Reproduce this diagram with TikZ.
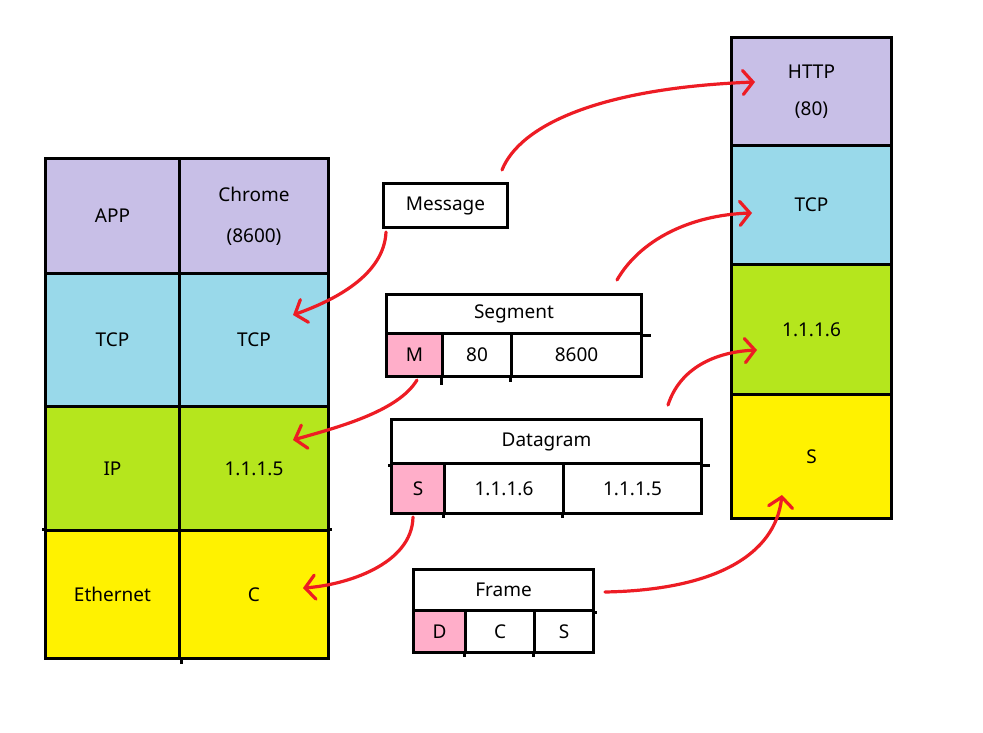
\documentclass[tikz,border=0pt]{standalone}
\usepackage{fontspec}
\setmainfont{Noto Sans}
\usetikzlibrary{arrows.meta}
\definecolor{cpurple}{HTML}{C8BFE7}
\definecolor{cblue}{HTML}{99D9EA}
\definecolor{cgreen}{HTML}{B5E61D}
\definecolor{cyellow}{HTML}{FFF200}
\definecolor{cpink}{HTML}{FFAEC9}
\definecolor{cred}{HTML}{ED1C24}
\begin{document}
\begin{tikzpicture}[x=1pt,y=-1pt,
  cell/.style={draw=black,line width=3pt,inner sep=0pt,anchor=north west,
    font=\fontsize{19}{22}\selectfont,align=center},
  ext/.style={draw=black,line width=3pt},
  redarrow/.style={draw=cred,line width=3.2pt,line cap=round,
    -{Straight Barb[length=10pt,width=24pt,line cap=round]}}]
\useasboundingbox (0,0) rectangle (983,733);
% left stack
\node[cell,fill=cpurple,minimum width=134,minimum height=115] (app) at (44,157) {APP};
\node[cell,fill=cpurple,minimum width=149,minimum height=115] (chrome) at (178,157) {Chrome\\[19pt](8600)};
\node[cell,fill=cblue,minimum width=134,minimum height=133] (tcpL) at (44,272) {TCP};
\node[cell,fill=cblue,minimum width=149,minimum height=133] (tcpR) at (178,272) {TCP};
\node[cell,fill=cgreen,minimum width=134,minimum height=124] (ipL) at (44,405) {IP};
\node[cell,fill=cgreen,minimum width=149,minimum height=124] (ipR) at (178,405) {1.1.1.5};
\node[cell,fill=cyellow,minimum width=134,minimum height=128] (ethL) at (44,529) {Ethernet};
\node[cell,fill=cyellow,minimum width=149,minimum height=128] (ethR) at (178,529) {C};
\draw[ext] (ethL.south east) -- ++(0,4);
\draw[ext] (ethL.north west) ++(-2,0) -- ++(2,0);
\draw[ext] (ethR.north east) -- ++(2,0);
% right stack
\node[cell,fill=cpurple,minimum width=160,minimum height=108] (http) at (730,36) {HTTP\\[15pt](80)};
\node[cell,fill=cblue,minimum width=160,minimum height=119] (tcp2) at (730,144) {TCP};
\node[cell,fill=cgreen,minimum width=160,minimum height=130] (ip2) at (730,263) {1.1.1.6};
\node[cell,fill=cyellow,minimum width=160,minimum height=124] (s2) at (730,393) {S};
% message
\node[cell,fill=white,minimum width=124,minimum height=44] (msg) at (382,182) {Message};
% segment
\node[cell,fill=white,minimum width=255,minimum height=39] (segt) at (385,293) {Segment};
\node[cell,fill=cpink,minimum width=56,minimum height=43] (segm) at (385,332) {M};
\node[cell,fill=white,minimum width=69,minimum height=43] (seg80) at (441,332) {80};
\node[cell,fill=white,minimum width=130,minimum height=43] (seg86) at (510,332) {8600};
\draw[ext] (segt.south east) -- ++(8,0);
\draw[ext] (seg80.south west) -- ++(0,7);
\draw[ext] (seg86.south west) -- ++(0,4);
% datagram
\node[cell,fill=white,minimum width=310,minimum height=44] (dgt) at (390,418) {Datagram};
\node[cell,fill=cpink,minimum width=53,minimum height=50] (dgs) at (390,462) {S};
\node[cell,fill=white,minimum width=119,minimum height=50] (dg6) at (443,462) {1.1.1.6};
\node[cell,fill=white,minimum width=138,minimum height=50] (dg5) at (562,462) {1.1.1.5};
\draw[ext] (dgt.south west) ++(-2,0) -- ++(2,0);
\draw[ext] (dgt.south east) -- ++(7,0);
\draw[ext] (dg6.south west) -- ++(0,3);
\draw[ext] (dg5.south west) -- ++(0,3);
% frame
\node[cell,fill=white,minimum width=180,minimum height=41] (frt) at (412,568) {Frame};
\node[cell,fill=cpink,minimum width=52,minimum height=42] (frd) at (412,609) {D};
\node[cell,fill=white,minimum width=69,minimum height=42] (frc) at (464,609) {C};
\node[cell,fill=white,minimum width=59,minimum height=42] (frs) at (533,609) {S};
\draw[ext] (frt.south east) -- ++(2,0);
\draw[ext] (frc.south west) -- ++(0,3);
\draw[ext] (frs.south west) -- ++(0,3);
% arrow endpoints
\coordinate (a1s) at (502,170); \coordinate (a1e) at (755,82);
\coordinate (a2s) at (386,232); \coordinate (a2e) at (293,315);
\coordinate (a3s) at (617,280); \coordinate (a3e) at (752,213);
\coordinate (a4s) at (417,380); \coordinate (a4e) at (293,440);
\coordinate (a5s) at (668,405); \coordinate (a5e) at (757,350);
\coordinate (a6s) at (413,517); \coordinate (a6e) at (303,588);
\coordinate (a7s) at (605,592); \coordinate (a7e) at (782,495);
\draw[redarrow] (a1s) .. controls (520,125) and (600,88) .. (a1e);
\draw[redarrow] (a2s) .. controls (384,275) and (335,300) .. (a2e);
\draw[redarrow] (a3s) .. controls (640,240) and (690,215) .. (a3e);
\draw[redarrow] (a4s) .. controls (398,412) and (335,428) .. (a4e);
\draw[redarrow] (a5s) .. controls (680,368) and (715,352) .. (a5e);
\draw[redarrow] (a6s) .. controls (412,565) and (345,585) .. (a6e);
\draw[redarrow] (a7s) .. controls (715,590) and (775,555) .. (a7e);
\end{tikzpicture}
\end{document}
